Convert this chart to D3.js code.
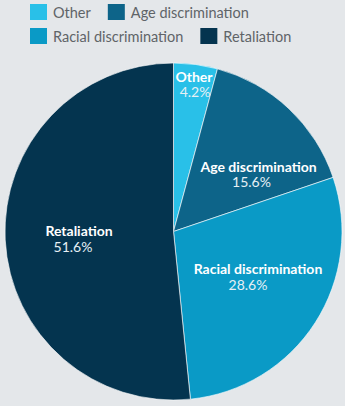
<!DOCTYPE html>
<html>
<head>
<meta charset="utf-8">
<script src="https://cdn.jsdelivr.net/npm/d3@7"></script>
<style>
  html, body { margin: 0; padding: 0; background: #e4e7ea; }
  svg { display: block; }
</style>
</head>
<body>
<svg id="chart" width="345" height="406"></svg>
<script>
// ---- data ----
const categories = ["Other", "Age discrimination", "Racial discrimination", "Retaliation"];
const shares = [4.2, 15.6, 28.6, 51.6];
const percentLabels = ["4.2%", "15.6%", "28.6%", "51.6%"];
const colors = ["#29c0e8", "#0d6489", "#0a9ac6", "#04344f"];

// ---- layout (label placement, relative to pie centre) ----
const labelOffsets = [[20.5, -150], [85, -60], [84.5, 42.5], [-94.5, 4.5]];
const pctShift = [1, -7, -10, -6];

const svg = d3.select("#chart");
const W = 345, H = 406;
const cx = 173.5, cy = 231.5, R = 168.5;

svg.append("rect").attr("width", W).attr("height", H).attr("fill", "#e4e7ea");

const data = categories.map((c, i) => ({ name: c, value: shares[i], pct: percentLabels[i], color: colors[i], i }));

const pie = d3.pie().value(d => d.value).sort(null);
const arc = d3.arc().innerRadius(0).outerRadius(R);

const g = svg.append("g").attr("transform", `translate(${cx},${cy})`);
g.selectAll("path").data(pie(data)).join("path")
  .attr("d", arc)
  .attr("fill", d => d.data.color)
  .attr("stroke", "rgba(255,255,255,0.6)")
  .attr("stroke-width", 1);

const font = "Lato, 'Open Sans', sans-serif";
const labels = g.selectAll("g.lbl").data(data).join("g")
  .attr("class", "lbl")
  .attr("transform", d => `translate(${labelOffsets[d.i][0]},${labelOffsets[d.i][1]})`);
labels.append("text")
  .attr("text-anchor", "middle")
  .attr("y", 0)
  .attr("font-family", font).attr("font-weight", 700).attr("font-size", 14)
  .attr("fill", "#ffffff")
  .text(d => d.name);
labels.append("text")
  .attr("text-anchor", "middle")
  .attr("x", d => pctShift[d.i])
  .attr("y", 15.5)
  .attr("font-family", font).attr("font-weight", 400).attr("font-size", 14)
  .attr("fill", "#e6f0f5")
  .text(d => d.pct);

// ---- legend ----
const legend = svg.append("g").attr("font-family", font).attr("font-size", 14.5);
const rows = [[0, 1], [2, 3]];
rows.forEach((row, r) => {
  let x = 30;
  const y = 4 + r * 24;
  row.forEach(idx => {
    legend.append("rect").attr("x", x).attr("y", y).attr("width", 17).attr("height", 16)
      .attr("fill", colors[idx]);
    const t = legend.append("text").attr("x", x + 23).attr("y", y + 14)
      .attr("fill", "#5f6468").text(categories[idx]);
    const w = t.node().getComputedTextLength();
    x = x + 23 + w + 17;
  });
});
</script>
</body>
</html>
